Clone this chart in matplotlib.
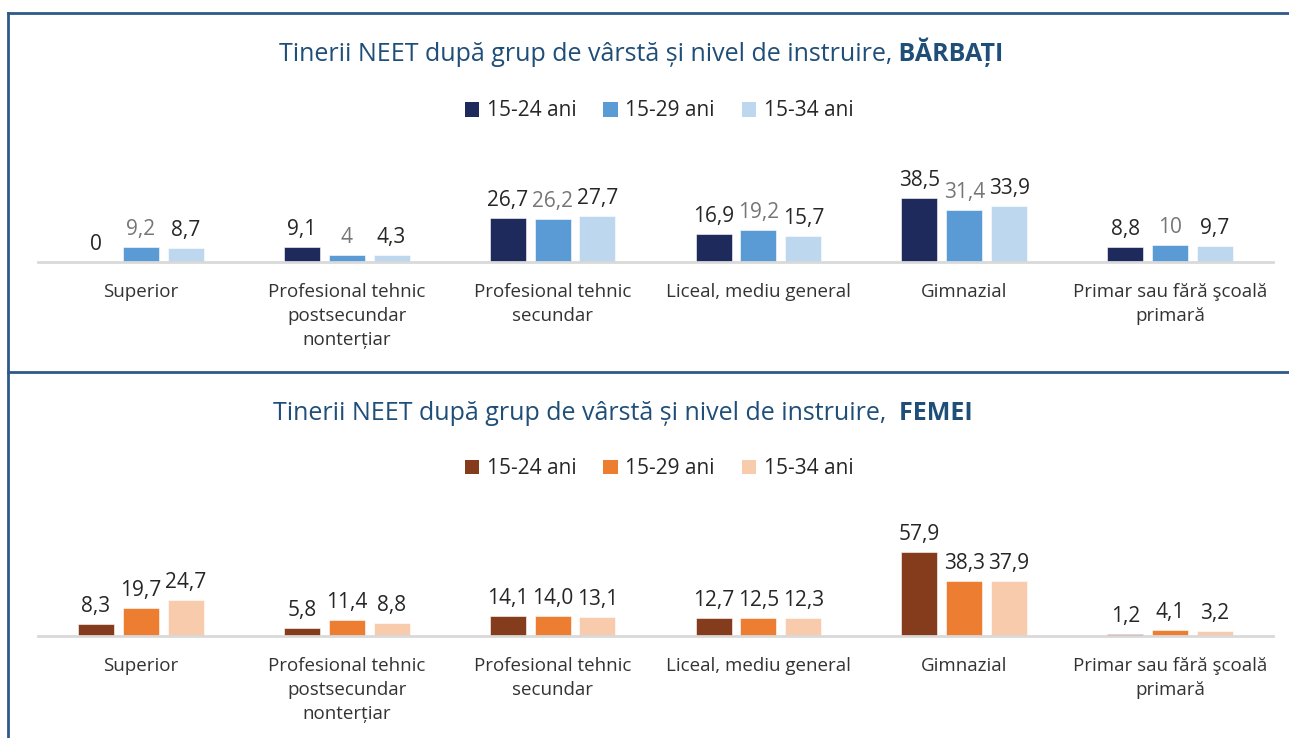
import numpy as np
import matplotlib.pyplot as plt
from matplotlib.lines import Line2D
from matplotlib.patches import Patch

plt.rcParams['font.family'] = ['Open Sans', 'DejaVu Sans']

categories = ["Superior", "Profesional tehnic\npostsecundar\nnonterțiar",
              "Profesional tehnic\nsecundar", "Liceal, mediu general",
              "Gimnazial", "Primar sau fără şcoală\nprimară"]
series = ["15-24 ani", "15-29 ani", "15-34 ani"]

# BARBATI
men_15_24 = [0, 9.1, 26.7, 16.9, 38.5, 8.8]
men_15_29 = [9.2, 4, 26.2, 19.2, 31.4, 10]
men_15_34 = [8.7, 4.3, 27.7, 15.7, 33.9, 9.7]

# FEMEI
women_15_24 = [8.3, 5.8, 14.1, 12.7, 57.9, 1.2]
women_15_29 = [19.7, 11.4, 14.0, 12.5, 38.3, 4.1]
women_15_34 = [24.7, 8.8, 13.1, 12.3, 37.9, 3.2]

men_colors = ['#1F2A5C', '#5B9BD5', '#BDD7EE']
women_colors = ['#843C1C', '#ED7D31', '#F8CBAD']
title_color = '#1F4E79'
frame_color = '#2F5A88'
text_dark = '#262626'

W, H = 1289, 738
fig = plt.figure(figsize=(W / 100, H / 100), dpi=100)


def px(x, y):
    return x / W, 1 - y / H


def draw_panel(rect, ymax, data, colors, label_colors, fmt):
    ax = fig.add_axes(rect)
    x = np.arange(len(categories))
    width = 0.175
    step = 0.218
    for i, vals in enumerate(data):
        pos = x + (i - 1) * step
        ax.bar(pos, vals, width, color=colors[i], edgecolor='white', linewidth=0.4)
        for xb, v in zip(pos, vals):
            ax.annotate(fmt(v).replace('.', ','), (xb, v), xytext=(0, 5),
                        textcoords='offset points', ha='center', va='bottom',
                        fontsize=15, color=label_colors[i])
    ax.set_xlim(-0.5, len(categories) - 0.5)
    ax.set_ylim(0, ymax)
    for s in ['top', 'right', 'left']:
        ax.spines[s].set_visible(False)
    ax.spines['bottom'].set_color('#D9D9D9')
    ax.spines['bottom'].set_linewidth(2)
    ax.set_yticks([])
    ax.set_xticks(x)
    ax.set_xticklabels(categories, fontsize=13.5, color='#333333', linespacing=1.42)
    ax.tick_params(axis='x', length=0, pad=15)
    ax.patch.set_visible(False)
    return ax


draw_panel([38 / W, 476 / H, 1235 / W, 83 / H], 50,
           [men_15_24, men_15_29, men_15_34], men_colors,
           [text_dark, '#767676', text_dark], lambda v: '{:g}'.format(v))
draw_panel([38 / W, 102 / H, 1235 / W, 94 / H], 65,
           [women_15_24, women_15_29, women_15_34], women_colors,
           [text_dark, text_dark, text_dark], lambda v: '{:.1f}'.format(v))

# titles: normal part + bold part, centered together
fig.canvas.draw()
renderer = fig.canvas.get_renderer()


def title(center_x, base_y, normal, bold):
    t1 = fig.text(0, 0, normal, fontsize=18, color=title_color, va='baseline')
    t2 = fig.text(0, 0, bold, fontsize=18, color=title_color, va='baseline', fontweight='bold')
    w1 = t1.get_window_extent(renderer).width
    w2 = t2.get_window_extent(renderer).width
    start = center_x - (w1 + w2) / 2
    t1.set_position(px(start, base_y))
    t2.set_position(px(start + w1, base_y))


title(641, 61, "Tinerii NEET după grup de vârstă și nivel de instruire,", " BĂRBAȚI")
title(623, 420, "Tinerii NEET după grup de vârstă și nivel de instruire,", "  FEMEI")

# legends
for cols, cy in [(men_colors, 111), (women_colors, 469)]:
    handles = [Patch(facecolor=c, edgecolor='none') for c in cols]
    fig.legend(handles, series, loc='center', bbox_to_anchor=px(659, cy), ncol=3,
               frameon=False, fontsize=15, handlelength=0.7, handleheight=0.7,
               handletextpad=0.35, columnspacing=1.3, labelcolor=text_dark)

# frame lines
fig.add_artist(Line2D([8 / W, 1], [1 - 13 / H] * 2, color=frame_color, lw=2))
fig.add_artist(Line2D([8 / W] * 2, [1 - 13 / H, 0], color=frame_color, lw=2))
fig.add_artist(Line2D([8 / W, 1], [1 - 372 / H] * 2, color=frame_color, lw=2))

fig.savefig('out.png', dpi=100)
